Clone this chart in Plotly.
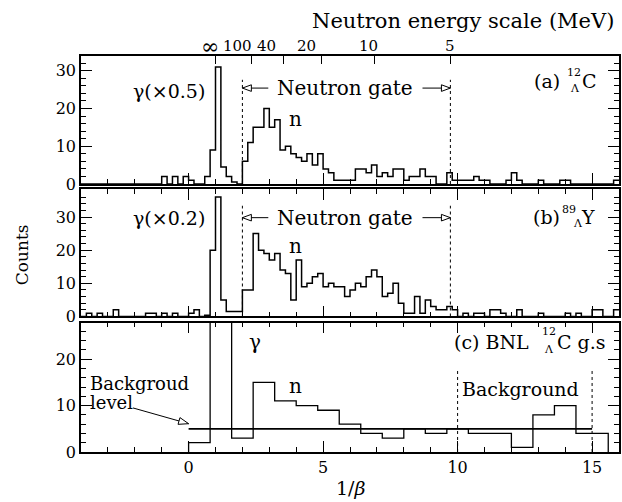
import math
import plotly.graph_objects as go

# ---------------- data ----------------
# panels (a) and (b): counts in 0.2-wide bins of 1/beta, from -4 to 16
BIN_START = -4.0
BIN_WIDTH = 0.2
counts_a = [
    0, 0, 0, 0, 0, 0, 0, 0, 0, 0, 0, 0, 0, 0, 0,          # -4.0 .. -1.0
    2, 0, 2, 0, 2, 1, 0, 0, 2, 9, 31, 4.5, 2, 0.5, 0,      # -1.0 .. 2.0 (gamma x0.5)
    6, 11, 15, 15, 20, 15, 17, 9, 10, 8,                   # 2.0 .. 4.0
    7, 6, 8, 5, 8, 4, 3, 1, 1, 1,                          # 4.0 .. 6.0
    1, 4, 4, 3, 5, 2, 3, 2, 4, 4,                          # 6.0 .. 8.0
    1, 2, 2, 4, 2, 2, 0, 0, 3, 1,                          # 8.0 .. 10.0
    1, 1, 1, 2, 1, 1, 0, 0, 0, 1,                          # 10.0 .. 12.0
    3, 1, 0, 0, 0, 1, 0, 0, 0, 1,                          # 12.0 .. 14.0
    1, 0, 0, 0, 0, 0, 0, 0, 0, 1,                          # 14.0 .. 16.0
]
counts_b = [
    0, 1, 0, 1, 0, 0, 2, 0, 0, 0, 0, 0, 1, 1, 0,          # -4.0 .. -1.0
    1, 0, 1, 0, 0, 1, 2, 0, 0.4, 20, 36, 5, 1.5, 1.5, 1.5, # -1.0 .. 2.0 (gamma x0.2)
    8, 8, 25, 20, 19, 17, 19, 14, 13, 5,                   # 2.0 .. 4.0
    17, 9, 10, 12, 13, 9, 10, 9, 9, 6,                     # 4.0 .. 6.0
    8, 10, 9, 12, 14, 12, 6, 7, 10, 4,                     # 6.0 .. 8.0
    1, 1, 6, 1, 5, 3, 2, 2, 3, 2,                          # 8.0 .. 10.0
    0, 1, 0, 1, 1, 0, 2, 2, 1, 0,                          # 10.0 .. 12.0
    0, 2, 0, 0, 0, 1, 0, 0, 0, 0,                          # 12.0 .. 14.0
    1, 0, 1, 0, 0, 2, 2, 0, 0, 2,                          # 14.0 .. 16.0
]
# panel (c): BNL 12C ground state, coarse bins
c_edges = [0.0, 0.8, 1.6, 2.4, 3.2, 4.0, 4.8, 5.6, 6.4, 7.2, 8.0,
           8.8, 9.6, 10.4, 11.2, 12.0, 12.8, 13.6, 14.4, 15.2, 15.6]
counts_c = [2, 40, 3, 15, 11, 10, 9, 6, 4, 3, 5, 4, 5, 4, 4, 1, 8, 10, 4, 4]
background_level = 5
background_span = [0, 15]
background_window = [10, 15]

gate_low = 2.0          # 1/beta
gate_high_mev = 5       # MeV
energy_ticks_mev = [math.inf, 100, 40, 20, 10, 5]
energy_tick_text = ["∞", "100", "40", "20", "10", "5"]
energy_label_shift_px = [-6, -14, -17, -15, -6, 0]
M_NEUTRON = 939.57


def inv_beta(t_mev):
    if math.isinf(t_mev):
        return 1.0
    g = 1.0 + t_mev / M_NEUTRON
    return g / math.sqrt(g * g - 1.0)


gate_high = inv_beta(gate_high_mev)
energy_tickvals = [inv_beta(t) for t in energy_ticks_mev]


def steps(edges, counts, close=False):
    xs, ys = [], []
    if close:
        xs.append(edges[0]); ys.append(0)
    for i, v in enumerate(counts):
        xs += [edges[i], edges[i + 1]]
        ys += [v, v]
    if close:
        xs.append(edges[-1]); ys.append(0)
    return xs, ys


ab_edges = [BIN_START + BIN_WIDTH * i for i in range(len(counts_a) + 1)]

# ---------------- layout geometry ----------------
W, H = 622, 502
ML, MR, MT, MB = 81, 1, 56, 50
XR = [-4, 16]
dom_a, rng_a = [0.6768, 1.0], [0, 33.9]
dom_b, rng_b = [0.3422, 0.6629], [0, 38.3]
dom_c, rng_c = [0.0, 0.327], [0, 27.9]
PW, PH = W - ML - MR, H - MT - MB
ppx = PW / (XR[1] - XR[0])


def ppy(dom, rng):
    return (dom[1] - dom[0]) * PH / (rng[1] - rng[0])


def paper_y(py):
    # pixel row (from top of figure) -> paper coordinate
    return (H - MB - py) / PH


ppy_a, ppy_b, ppy_c = ppy(dom_a, rng_a), ppy(dom_b, rng_b), ppy(dom_c, rng_c)

FONT = "DejaVu Serif"
LW = 1.5

fig = go.Figure()
line_style = dict(color="black", width=LW)
xa, ya = steps(ab_edges, counts_a)
xb, yb = steps(ab_edges, counts_b)
xc, yc = steps(c_edges, counts_c, close=True)
fig.add_trace(go.Scatter(x=xa, y=ya, mode="lines", line=line_style, xaxis="x", yaxis="y"))
fig.add_trace(go.Scatter(x=xb, y=yb, mode="lines", line=line_style, xaxis="x2", yaxis="y2"))
fig.add_trace(go.Scatter(x=xc, y=yc, mode="lines", line=dict(color="black", width=1.3),
                         xaxis="x3", yaxis="y3"))
fig.add_trace(go.Scatter(x=background_span, y=[background_level] * 2, mode="lines",
                         line=dict(color="black", width=1.8), xaxis="x3", yaxis="y3"))
# invisible trace to activate the top energy axis
fig.add_trace(go.Scatter(x=[energy_tickvals[0]], y=[0], mode="markers", opacity=0,
                         xaxis="x4", yaxis="y"))


def xax(anchor, mirror, labels):
    return dict(domain=[0, 1], anchor=anchor, range=XR, showgrid=False, zeroline=False,
                showline=True, linecolor="black", linewidth=LW, mirror=mirror,
                ticks="inside", tick0=0, dtick=5, ticklen=11, tickwidth=1, tickcolor="black",
                minor=dict(dtick=1, ticklen=5, tickwidth=1, tickcolor="black", ticks="inside"),
                showticklabels=labels, tickfont=dict(family=FONT, size=16, color="black"))


def yax(anchor, dom, rng):
    return dict(domain=dom, anchor=anchor, range=rng, showgrid=False, zeroline=False,
                showline=True, linecolor="black", linewidth=LW, mirror="ticks",
                ticks="inside", tick0=0, dtick=10, ticklen=11, tickwidth=1, tickcolor="black",
                minor=dict(dtick=2, ticklen=5, tickwidth=1, tickcolor="black", ticks="inside"),
                tickfont=dict(family=FONT, size=16, color="black"))


fig.update_layout(
    width=W, height=H, margin=dict(l=ML, r=MR, t=MT, b=MB),
    paper_bgcolor="white", plot_bgcolor="white", showlegend=False,
    font=dict(family=FONT, color="black"),
    xaxis=xax("y", True, False), yaxis=yax("x", dom_a, rng_a),
    xaxis2=xax("y2", "ticks", False), yaxis2=yax("x2", dom_b, rng_b),
    xaxis3=xax("y3", "ticks", True), yaxis3=yax("x3", dom_c, rng_c),
    xaxis4=dict(overlaying="x", anchor="y", side="top", range=XR, showgrid=False,
                zeroline=False, showline=False, tickmode="array", tickvals=energy_tickvals,
                ticks="inside", ticklen=8, tickwidth=1, tickcolor="black",
                showticklabels=False),
)

shapes = []
dot = dict(color="black", width=1, dash="dot")
# neutron gate lines
shapes.append(dict(type="line", xref="x", yref="y", x0=gate_low, x1=gate_low, y0=0, y1=27.6, line=dot))
shapes.append(dict(type="line", xref="x", yref="y", x0=gate_high, x1=gate_high, y0=0, y1=27.6, line=dot))
shapes.append(dict(type="line", xref="x2", yref="y2", x0=gate_low, x1=gate_low, y0=0, y1=33.4, line=dot))
shapes.append(dict(type="line", xref="x2", yref="y2", x0=gate_high, x1=gate_high, y0=0, y1=33.4, line=dot))
# background window lines
for xv in background_window:
    shapes.append(dict(type="line", xref="x3", yref="y3", x0=xv, x1=xv, y0=0, y1=18, line=dot))


def arrow(xref, yref, py_scale, x_tail, y_tail, x_tip, y_tip, L=9, hw=3.3):
    # shaft
    shapes.append(dict(type="line", xref=xref, yref=yref, x0=x_tail, y0=y_tail, x1=x_tip,
                       y1=y_tip, line=dict(color="black", width=1)))
    dxp = (x_tip - x_tail) * ppx
    dyp = (y_tip - y_tail) * py_scale
    n = math.hypot(dxp, dyp)
    ux, uy = dxp / n, dyp / n
    bx, by = -L * ux, -L * uy
    px_, py_ = -uy, ux
    pts = [(x_tip, y_tip),
           (x_tip + (bx + hw * px_) / ppx, y_tip + (by + hw * py_) / py_scale),
           (x_tip + (bx - hw * px_) / ppx, y_tip + (by - hw * py_) / py_scale)]
    path = "M {},{} L {},{} L {},{} Z".format(*[c for p in pts for c in p])
    shapes.append(dict(type="path", xref=xref, yref=yref, path=path, fillcolor="white",
                       line=dict(color="black", width=1)))


# gate arrows (panel a and b)
for xr, yr, sc, yv in [("x", "y", ppy_a, 25.4), ("x2", "y2", ppy_b, 29.8)]:
    arrow(xr, yr, sc, gate_low + 26 / ppx, yv, gate_low, yv)
    arrow(xr, yr, sc, gate_high - 28 / ppx, yv, gate_high, yv)
# background level arrow
arrow("x3", "y3", ppy_c, -2.07, 9.5, 0.0, 6.1, L=10, hw=3.5)
fig.update_layout(shapes=shapes)

ann = []


def text(t, x, y, xref, yref, size=19, xanchor="center", yanchor="middle", **kw):
    ann.append(dict(text=t, x=x, y=y, xref=xref, yref=yref, showarrow=False,
                    xanchor=xanchor, yanchor=yanchor,
                    font=dict(family=FONT, size=size, color="black"), **kw))


gate_mid = (gate_low + 26 / ppx + gate_high - 28 / ppx) / 2
# panel a
text("γ(×0.5)", -0.73, 24.5, "x", "y")
text("Neutron gate", gate_mid, 25.4, "x", "y", size=20)
text("n", 3.96, 17.2, "x", "y", size=20)
text("(a)", 12.78, 27.3, "x", "y", xanchor="left")
text("12", 14.0, 29.4, "x", "y", size=11, xanchor="left")
text("Λ", 14.12, 25.3, "x", "y", size=11, xanchor="left")
text("C", 14.56, 27.3, "x", "y", xanchor="left")
# panel b
text("γ(×0.2)", -0.73, 29.6, "x2", "y2")
text("Neutron gate", gate_mid, 29.8, "x2", "y2", size=20)
text("n", 3.96, 21.2, "x2", "y2", size=20)
text("(b)", 12.74, 30.0, "x2", "y2", xanchor="left")
text("89", 13.82, 32.4, "x2", "y2", size=11, xanchor="left")
text("Λ", 14.2, 27.9, "x2", "y2", size=11, xanchor="left")
text("Y", 14.5, 30.0, "x2", "y2", xanchor="left")
# panel c
text("γ", 2.46, 23.8, "x3", "y3", size=20)
text("n", 3.96, 14.3, "x3", "y3", size=20)
text("(c) BNL", 9.78, 23.6, "x3", "y3", xanchor="left")
text("12", 13.07, 25.9, "x3", "y3", size=11, xanchor="left")
text("Λ", 13.12, 22.0, "x3", "y3", size=11, xanchor="left")
text("C g.s", 13.63, 23.6, "x3", "y3", xanchor="left")
text("Background", 12.33, 13.6, "x3", "y3")
text("Backgroud", -3.75, 14.8, "x3", "y3", xanchor="left", size=18)
text("level", -3.75, 10.6, "x3", "y3", xanchor="left", size=18)
# top energy scale labels
for tv, tt, sh in zip(energy_tickvals, energy_tick_text, energy_label_shift_px):
    size = 22 if tt == "∞" else 15
    text(tt, tv, paper_y(46.5), "x", "paper", size=size, xshift=sh)
# titles
text("Neutron energy scale (MeV)", 1 - 3 / PW, paper_y(21), "paper", "paper",
     size=21, xanchor="right")
text("Counts", -59 / PW, paper_y(255), "paper", "paper", size=17, textangle=-90)
text("1/<i>β</i>", (352 - ML) / PW, paper_y(488), "paper", "paper", size=19)
fig.update_layout(annotations=ann)

fig.write_html("out.html", config={"displayModeBar": False},
               post_script="document.body.style.margin='0';")
